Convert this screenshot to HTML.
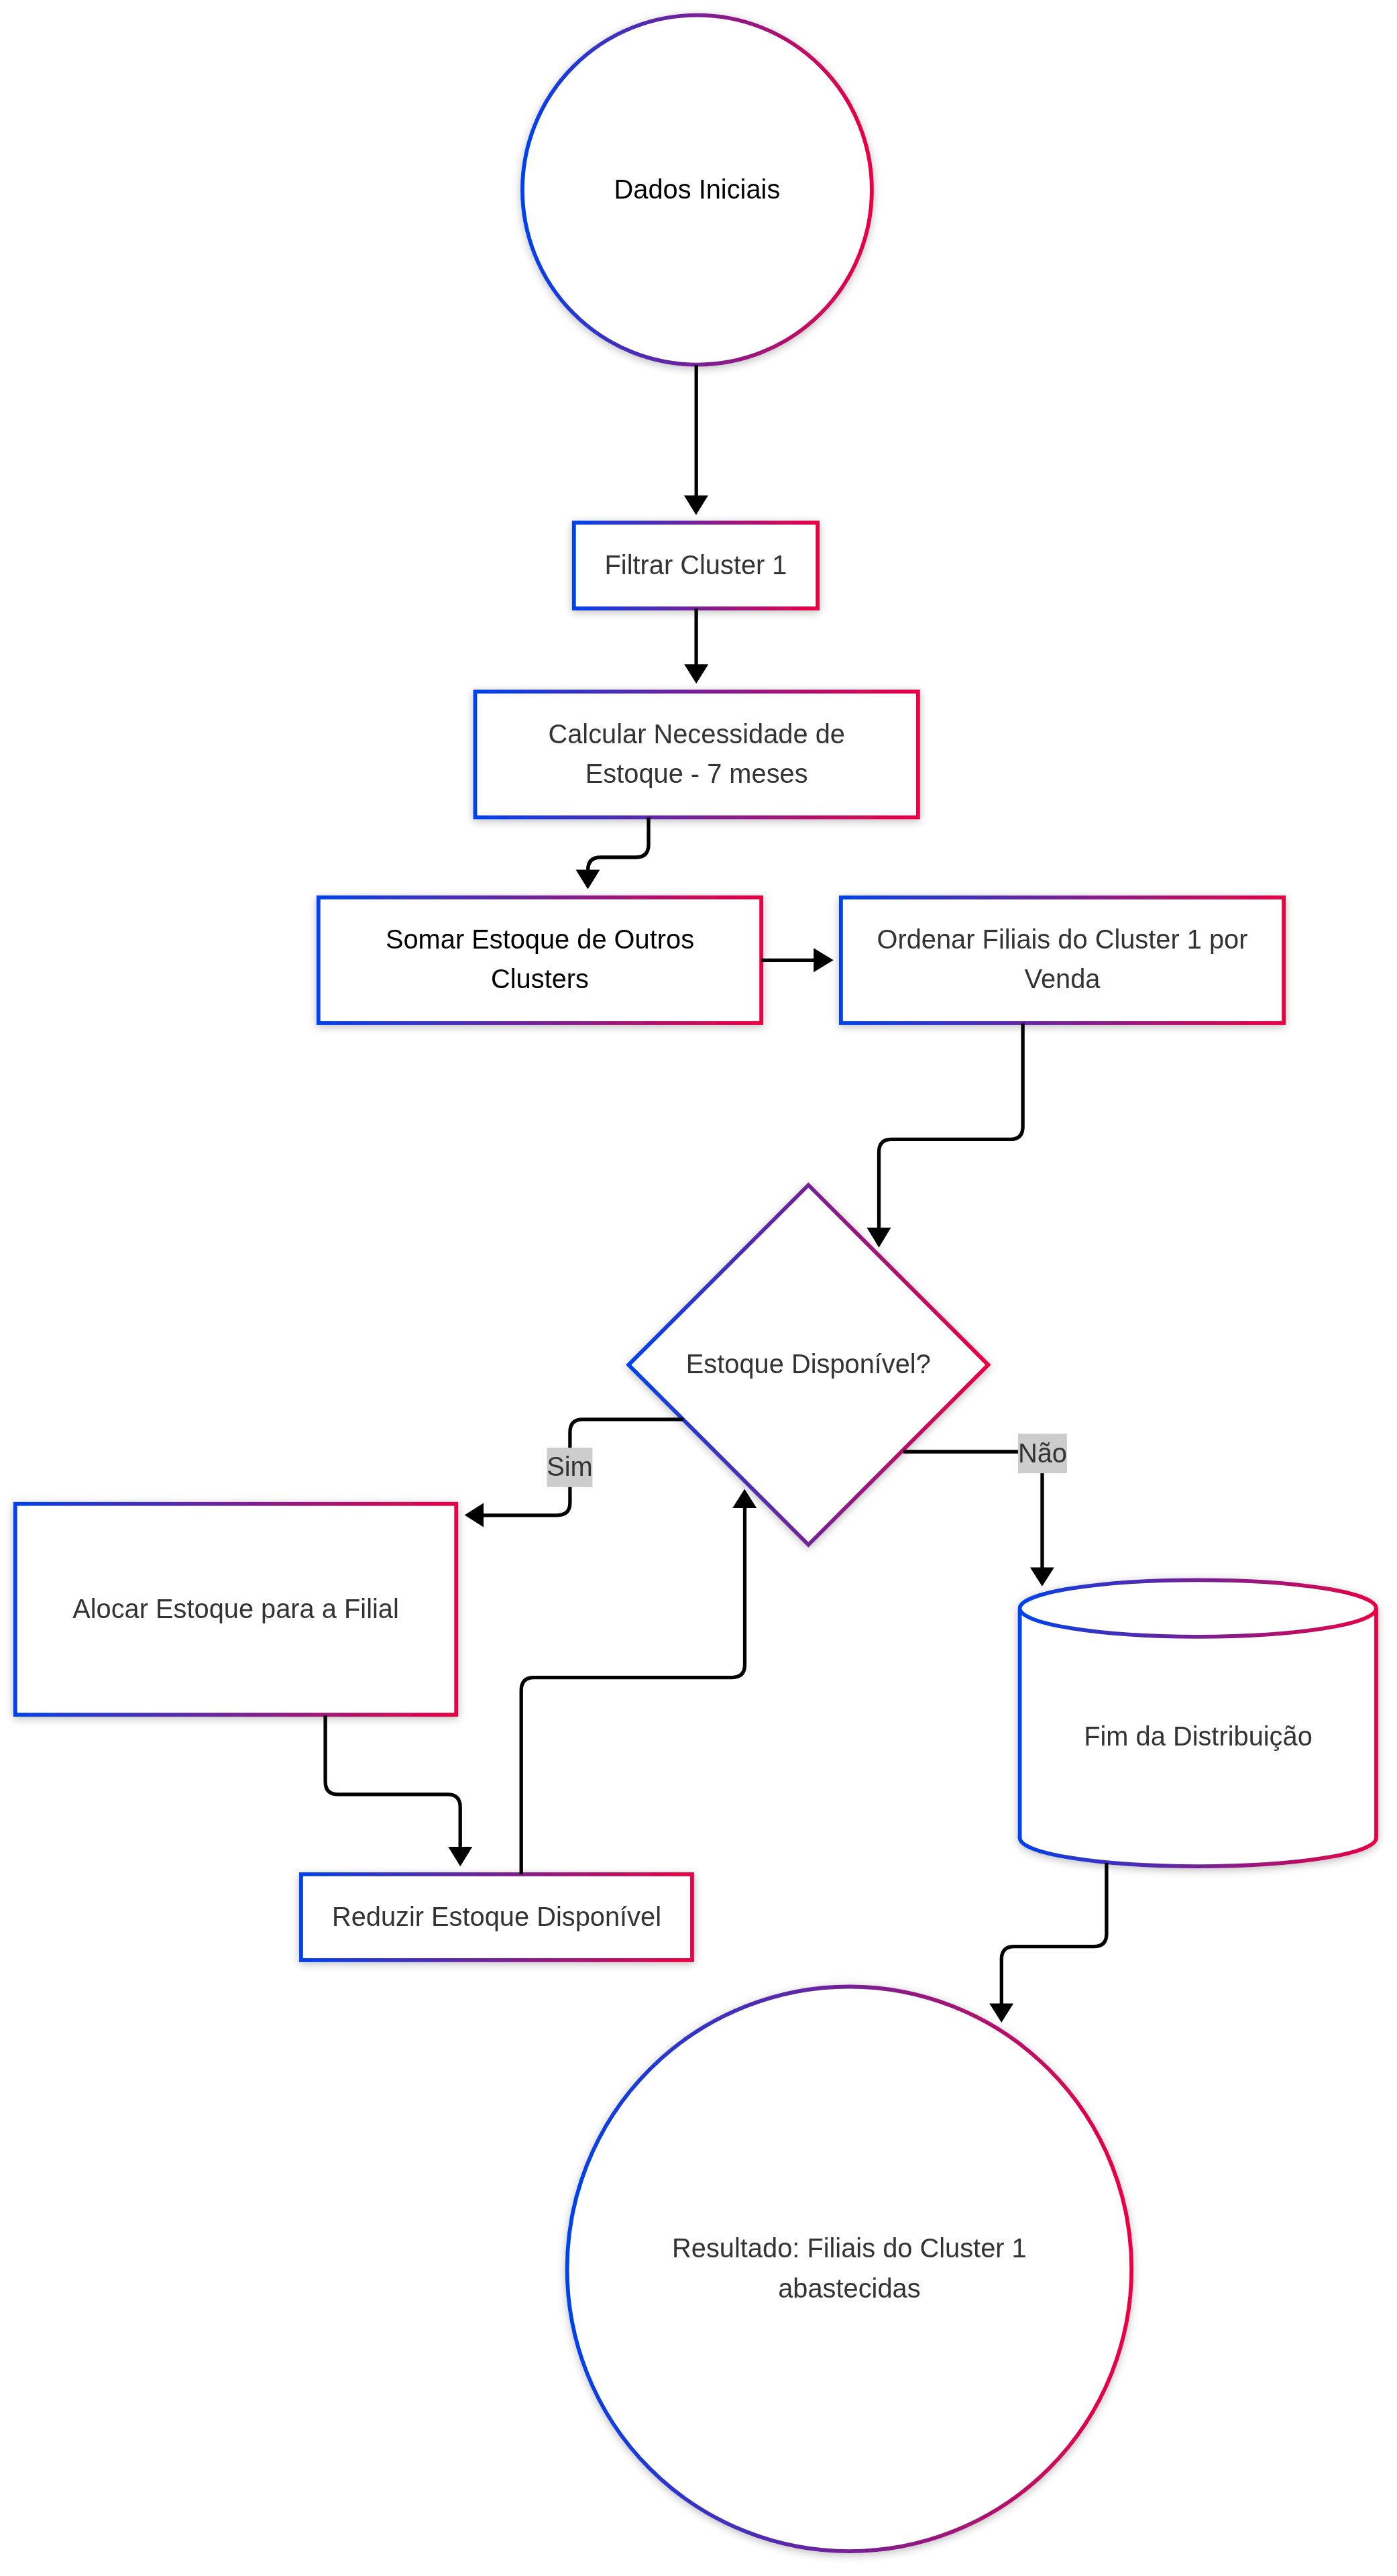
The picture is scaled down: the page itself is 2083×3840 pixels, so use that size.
<!DOCTYPE html>
<html><head><meta charset="utf-8"><style>
html,body{margin:0;padding:0;background:#fff;width:2083px;height:3840px;overflow:hidden}
svg{display:block;will-change:transform}
.n{fill:#fff;stroke:url(#g);stroke-width:5.8;filter:url(#sh)}
.e{fill:none;stroke:#000;stroke-width:5.3;stroke-linecap:butt;stroke-linejoin:round}
.ar{fill:#000;stroke:none}
text{font-family:"Liberation Sans",sans-serif;font-size:39.8px;text-anchor:middle}
</style></head><body>
<svg width="2083" height="3840" viewBox="0 0 2083 3840">
<defs>
<linearGradient id="g" x1="0%" y1="0%" x2="100%" y2="0%">
<stop offset="0%" stop-color="#0042eb"/><stop offset="100%" stop-color="#eb0042"/>
</linearGradient>
<filter id="sh" x="-20%" y="-20%" width="140%" height="140%">
<feGaussianBlur in="SourceAlpha" stdDeviation="6.5"/>
<feOffset dx="-0.5" dy="2.5" result="b"/>
<feComponentTransfer in="b" result="c"><feFuncA type="linear" slope="0.26"/></feComponentTransfer>
<feMerge><feMergeNode in="c"/><feMergeNode in="SourceGraphic"/></feMerge>
</filter>
</defs>
<g><circle cx="1039.45" cy="283.1" r="260.5" class="n"/><rect x="855.80" y="779.10" width="363.35" height="127.90" class="n"/><rect x="708.50" y="1030.90" width="660.40" height="187.50" class="n"/><rect x="474.80" y="1337.70" width="660.35" height="187.30" class="n"/><rect x="1253.90" y="1337.80" width="660.25" height="187.20" class="n"/><path d="M1205.35,1766.50 L1473.45,2034.60 L1205.35,2302.70 L937.25,2034.60 Z" class="n"/><rect x="22.75" y="2241.80" width="657.45" height="314.30" class="n"/><rect x="448.95" y="2794.00" width="583.00" height="127.95" class="n"/><path d="M1520.60,2397.55 a265.70,42.25 0 0,0 531.40,0 a265.70,42.25 0 0,0 -531.40,0 l0,342.30 a265.70,42.25 0 0,0 531.40,0 l0,-342.30" class="n"/><circle cx="1266.4" cy="3382.3" r="420.8" class="n"/></g>
<g><path d="M1038.20,544.00 L1038.20,740.00" class="e"/><path d="M1019.90,738.40 L1055.90,738.40 L1037.90,767.80 Z" class="ar"/><path d="M1038.10,907.20 L1038.10,992.00" class="e"/><path d="M1020.20,990.20 L1056.20,990.20 L1038.20,1019.10 Z" class="ar"/><path d="M967.00,1218.60 L967.00,1259.00 Q967.00,1278.00 948.00,1278.00 L895.60,1278.00 Q876.60,1278.00 876.60,1297.00 L876.60,1298.00" class="e"/><path d="M858.50,1296.40 L894.50,1296.40 L876.50,1325.40 Z" class="ar"/><path d="M1135.00,1431.30 L1215.00,1431.30" class="e"/><path d="M1213.20,1413.30 L1213.20,1449.30 L1242.70,1431.30 Z" class="ar"/><path d="M1525.10,1525.50 L1525.10,1679.40 Q1525.10,1698.40 1506.10,1698.40 L1329.50,1698.40 Q1310.50,1698.40 1310.50,1717.40 L1310.50,1832.00" class="e"/><path d="M1292.50,1829.90 L1328.50,1829.90 L1310.50,1859.80 Z" class="ar"/><path d="M1019.10,2115.80 L868.90,2115.80 Q849.90,2115.80 849.90,2134.80 L849.90,2239.80 Q849.90,2258.80 830.90,2258.80 L719.00,2258.80" class="e"/><path d="M721,2240.5 L721,2276.5 L692.7,2258.6 Z" class="ar"/><path d="M485.10,2557.10 L485.10,2655.90 Q485.10,2674.90 504.10,2674.90 L667.20,2674.90 Q686.20,2674.90 686.20,2693.90 L686.20,2755.00" class="e"/><path d="M668.30,2753.10 L704.30,2753.10 L686.30,2782.30 Z" class="ar"/><path d="M777.20,2794.00 L777.20,2519.60 Q777.20,2500.60 796.20,2500.60 L1091.50,2500.60 Q1110.50,2500.60 1110.50,2481.60 L1110.50,2246.00" class="e"/><path d="M1092.20,2248.10 L1128.20,2248.10 L1110.20,2219.50 Z" class="ar"/><path d="M1346.70,2164.00 L1535.00,2164.00 Q1554.00,2164.00 1554.00,2183.00 L1554.00,2338.00" class="e"/><path d="M1535.90,2336.50 L1571.90,2336.50 L1553.90,2364.80 Z" class="ar"/><path d="M1649.90,2777.10 L1649.90,2882.70 Q1649.90,2901.70 1630.90,2901.70 L1512.30,2901.70 Q1493.30,2901.70 1493.30,2920.70 L1493.30,2988.00" class="e"/><path d="M1475.20,2986.50 L1511.20,2986.50 L1493.20,3014.90 Z" class="ar"/></g>
<g><rect x="815.4" y="2158.0" width="68.0" height="58.8" fill="#cccccc"/><text x="849.40" y="2199.90" fill="#333">Sim</text><rect x="1517.9" y="2137.2" width="73.0" height="59.0" fill="#cccccc"/><text x="1554.40" y="2180.20" fill="#333">Não</text></g>
<g><text x="1039.45" y="295.80" fill="#000">Dados Iniciais</text><text x="1037.50" y="855.90" fill="#333">Filtrar Cluster 1</text><text x="1038.70" y="1107.70" fill="#333">Calcular Necessidade de</text><text x="1038.70" y="1167.10" fill="#333">Estoque - 7 meses</text><text x="805.00" y="1413.90" fill="#000">Somar Estoque de Outros</text><text x="805.00" y="1473.30" fill="#000">Clusters</text><text x="1584.00" y="1413.90" fill="#333">Ordenar Filiais do Cluster 1 por</text><text x="1584.00" y="1473.30" fill="#333">Venda</text><text x="1205.35" y="2047.40" fill="#333">Estoque Disponível?</text><text x="351.50" y="2412.20" fill="#333">Alocar Estoque para a Filial</text><text x="740.45" y="2870.80" fill="#333">Reduzir Estoque Disponível</text><text x="1786.50" y="2602.20" fill="#333">Fim da Distribuição</text><text x="1266.40" y="3365.30" fill="#333">Resultado: Filiais do Cluster 1</text><text x="1266.40" y="3424.70" fill="#333">abastecidas</text></g>
</svg>
</body></html>
